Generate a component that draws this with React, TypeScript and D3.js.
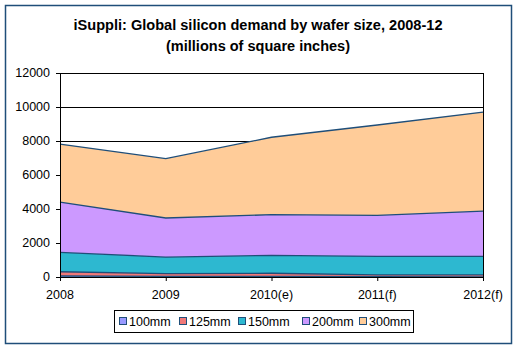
import React from 'react';
import * as d3 from 'd3';

// Years on the x axis
const years = ['2008', '2009', '2010(e)', '2011(f)', '2012(f)'];

// Demand per wafer size (millions of square inches)
const mm100 = [60, 40, 30, 20, 10];
const mm125 = [250, 160, 190, 100, 110];
const mm150 = [1140, 975, 1055, 1095, 1095];
const mm200 = [2960, 2295, 2390, 2415, 2665];
const mm300 = [3410, 3490, 4555, 5310, 5820];

const seriesNames = ['100mm', '125mm', '150mm', '200mm', '300mm'];
const seriesColors = ['#9999FF', '#F07878', '#2DB8D0', '#CC99FF', '#FFCC99'];
const yTicks = [0, 2000, 4000, 6000, 8000, 10000, 12000];

const W = 518;
const H = 350;
const margin = { top: 73, right: 35, bottom: 73, left: 60 };

export default function App() {
  const innerW = W - margin.left - margin.right;
  const innerH = H - margin.top - margin.bottom;

  const rows = years.map((y, i) => ({
    year: y,
    '100mm': mm100[i],
    '125mm': mm125[i],
    '150mm': mm150[i],
    '200mm': mm200[i],
    '300mm': mm300[i],
  }));

  const stacked = d3.stack<any>().keys(seriesNames)(rows);

  const x = d3.scalePoint().domain(years).range([0, innerW]);
  const y = d3.scaleLinear().domain([0, 12000]).range([innerH, 0]);

  const area = d3.area<any>()
    .x((d) => x(d.data.year) as number)
    .y0((d) => y(d[0]))
    .y1((d) => y(d[1]));

  const topLine = d3.line<any>()
    .x((d) => x(d.data.year) as number)
    .y((d) => y(d[1]));

  const font = 'Arial, "Liberation Sans", sans-serif';
  const legendX = 114;
  const legendY = 310;
  const itemX = [0, 60, 119, 183, 240];

  return (
    <svg width={W} height={H} style={{ position: 'absolute', left: 0, top: 0 }} fontFamily={font}>
      <rect x={0} y={0} width={W} height={H} fill="#fff" />
      <rect x={5.5} y={5.5} width={506} height={338} fill="#fff" stroke="#1F4E79" strokeWidth={1.5} />

      <text x={258} y={30} textAnchor="middle" fontSize={14.5} fontWeight="bold" textLength={369} lengthAdjust="spacingAndGlyphs">
        iSuppli: Global silicon demand by wafer size, 2008-12
      </text>
      <text x={258} y={51} textAnchor="middle" fontSize={14.5} fontWeight="bold" textLength={184} lengthAdjust="spacingAndGlyphs">
        (millions of square inches)
      </text>

      <g transform={`translate(${margin.left},${margin.top})`}>
        {yTicks.map((t) => (
          <g key={t}>
            <line x1={0} x2={innerW} y1={y(t) + 0.5} y2={y(t) + 0.5} stroke="#000" strokeWidth={1} />
            <text x={-10} y={y(t)} dy="0.35em" textAnchor="end" fontSize={12.5}>{t}</text>
            <line x1={-4} x2={0} y1={y(t) + 0.5} y2={y(t) + 0.5} stroke="#000" />
          </g>
        ))}

        {stacked.map((s, i) => (
          <path key={s.key} d={area(s) || ''} fill={seriesColors[i]} />
        ))}
        {stacked.map((s) => (
          <path key={s.key + '-l'} d={topLine(s) || ''} fill="none" stroke="#1F4E79" strokeWidth={1.3} />
        ))}

        <rect x={0.5} y={0.5} width={innerW} height={innerH} fill="none" stroke="#000" strokeWidth={1} />
        {years.map((yr) => (
          <g key={yr}>
            <line x1={(x(yr) as number) + 0.5} x2={(x(yr) as number) + 0.5} y1={innerH} y2={innerH + 4} stroke="#000" />
            <text x={x(yr) as number} y={innerH + 22} textAnchor="middle" fontSize={12.5}>{yr}</text>
          </g>
        ))}
      </g>

      <rect x={legendX + 0.5} y={legendY + 0.5} width={299} height={22} fill="#fff" stroke="#000" strokeWidth={1} />
      {seriesNames.map((n, i) => {
        const lx = legendX + 5 + itemX[i];
        return (
          <g key={n}>
            <rect x={lx + 0.5} y={legendY + 7.5} width={7} height={7} fill={seriesColors[i]} stroke="#1F4E79" />
            <text x={lx + 10} y={legendY + 11.5} dy="0.35em" fontSize={12.5}>{n}</text>
          </g>
        );
      })}
    </svg>
  );
}
